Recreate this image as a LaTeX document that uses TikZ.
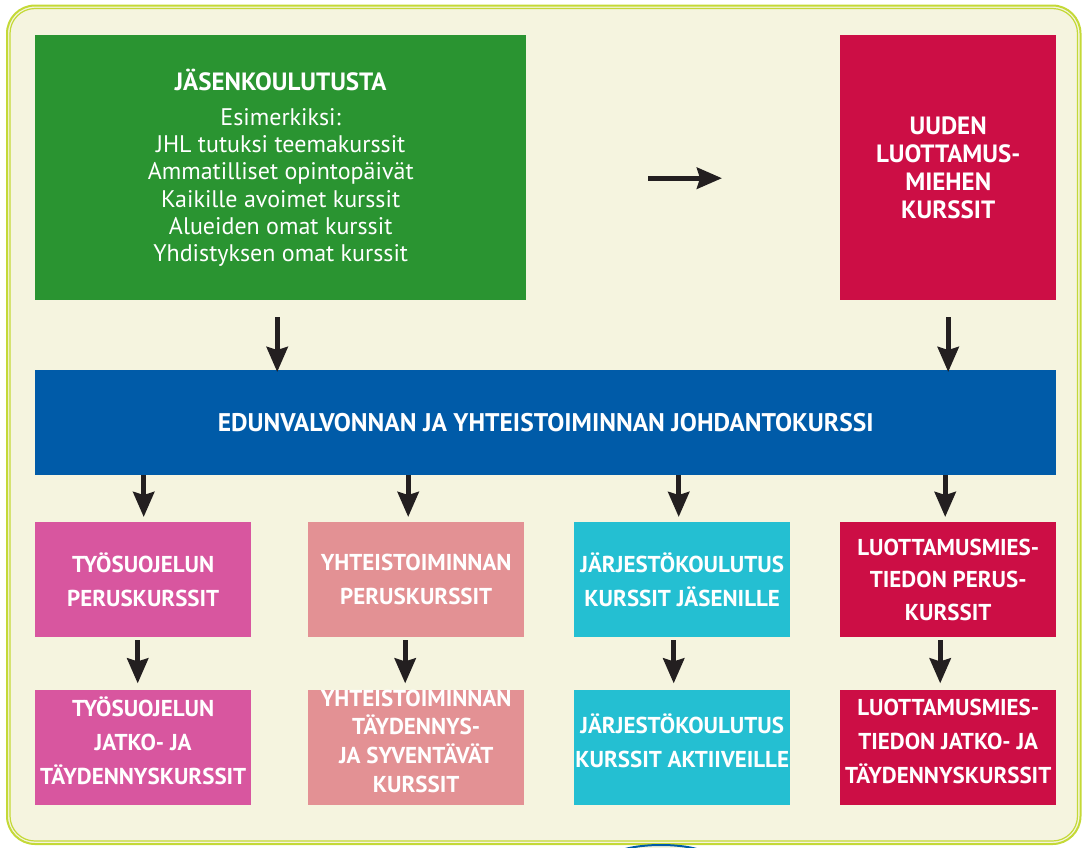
\documentclass[tikz,border=0pt]{standalone}
\usepackage{fontspec}
\setmainfont{PT Sans}
\usetikzlibrary{positioning,arrows.meta,calc}
\definecolor{cream}{HTML}{F5F4DF}
\definecolor{framelime}{HTML}{C4D937}
\definecolor{jgreen}{HTML}{2A9431}
\definecolor{lmred}{HTML}{CC0E45}
\definecolor{eblue}{HTML}{005BA8}
\definecolor{tspink}{HTML}{D8569F}
\definecolor{ytsalmon}{HTML}{E39194}
\definecolor{jcyan}{HTML}{24BFD2}
\definecolor{arrowdark}{HTML}{231F20}

\begin{document}
\begin{tikzpicture}[x=1pt,y=-1pt,
  box/.style={rectangle, text=white, align=center, inner sep=0pt, font=\bfseries\fontsize{23}{34}\selectfont},
  row/.style={box, minimum width=216pt, minimum height=115pt, anchor=north west},
  low/.style={row, text depth=12pt},
  arr/.style={draw=arrowdark, line width=5pt, -{Stealth[length=25pt,width=21pt,inset=3pt]}}]
  \useasboundingbox (0,0) rectangle (1086,847);
  \draw[framelime, line width=2pt, fill=cream, rounded corners=28pt] (7,5.5) rectangle (1080.5,844);
  \draw[framelime, line width=1.2pt, rounded corners=25pt] (10,8.5) rectangle (1077.5,841);
  \begin{scope}
    \clip (0,0) rectangle (1086,847);
    \draw[eblue, line width=2pt, fill=cream] (661,857) ellipse [x radius=48, y radius=12];
  \end{scope}

  \node[box, fill=jgreen, minimum width=491pt, minimum height=265pt, anchor=north west,
        font=\fontsize{24}{27.3}\selectfont] (jasen) at (35,35)
        {{\bfseries\fontsize{25}{27.3}\selectfont JÄSENKOULUTUSTA}\\[8pt]
         Esimerkiksi:\\
         JHL tutuksi teemakurssit\\
         Ammatilliset opintopäivät\\
         Kaikille avoimet kurssit\\
         Alueiden omat kurssit\\
         Yhdistyksen omat kurssit};
  \node[box, fill=lmred, minimum width=216pt, minimum height=265pt, anchor=north west,
        font=\bfseries\fontsize{25}{28}\selectfont] (uusi) at (840,35)
        {UUDEN\\LUOTTAMUS-\\MIEHEN\\KURSSIT};
  \node[box, fill=eblue, minimum width=1021pt, minimum height=105pt, anchor=north west,
        font=\bfseries\fontsize{25.5}{28}\selectfont] (edun) at (35,370)
        {EDUNVALVONNAN JA YHTEISTOIMINNAN JOHDANTOKURSSI};

  \node[row, fill=tspink] (tyo1) at (35,522) {TYÖSUOJELUN\\PERUSKURSSIT};
  \node[row, fill=ytsalmon] (yt1) at (308,522) {YHTEISTOIMINNAN\\PERUSKURSSIT};
  \node[row, fill=jcyan] (jar1) at (574,522) {JÄRJESTÖKOULUTUS\\KURSSIT JÄSENILLE};
  \node[row, fill=lmred, font=\bfseries\fontsize{23}{32.5}\selectfont] (lm1) at (840,522)
        {LUOTTAMUSMIES-\\TIEDON PERUS-\\KURSSIT};

  \node[low, fill=tspink, below=52pt of tyo1, anchor=north] (tyo2) {TYÖSUOJELUN\\JATKO- JA\\TÄYDENNYSKURSSIT};
  \node[low, fill=ytsalmon, below=52pt of yt1, anchor=north, font=\bfseries\fontsize{23}{28.7}\selectfont] (yt2)
        {YHTEISTOIMINNAN\\TÄYDENNYS-\\JA SYVENTÄVÄT\\KURSSIT};
  \node[low, fill=jcyan, below=52pt of jar1, anchor=north] (jar2) {JÄRJESTÖKOULUTUS\\KURSSIT AKTIIVEILLE};
  \node[low, fill=lmred, below=52pt of lm1, anchor=north] (lm2) {LUOTTAMUSMIES-\\TIEDON JATKO- JA\\TÄYDENNYSKURSSIT};

  \draw[arr] ($(jasen.east)+(122,10.5)$) -- ($(uusi.west)+(-118,10.5)$);
  \draw[arr] ($(jasen.south)+(-3.5,17)$) -- ($(jasen.south |- edun.north)+(-3.5,2)$);
  \draw[arr] ($(uusi.south)+(0,17)$) -- ($(uusi.south |- edun.north)+(0,2)$);
  \foreach \b/\d in {tyo1/0.5, yt1/-8, jar1/-3.5, lm1/-3}
    \draw[arr] ($(edun.south -| \b.north)+(\d,0)$) -- ($(\b.north)+(\d,-5)$);
  \foreach \a/\b/\d in {tyo1/tyo2/-5.5, yt1/yt2/-11, jar1/jar2/-8.5, lm1/lm2/-8}
    \draw[arr] ($(\a.south)+(\d,3)$) -- ($(\b.north)+(\d,-6)$);
\end{tikzpicture}
\end{document}
